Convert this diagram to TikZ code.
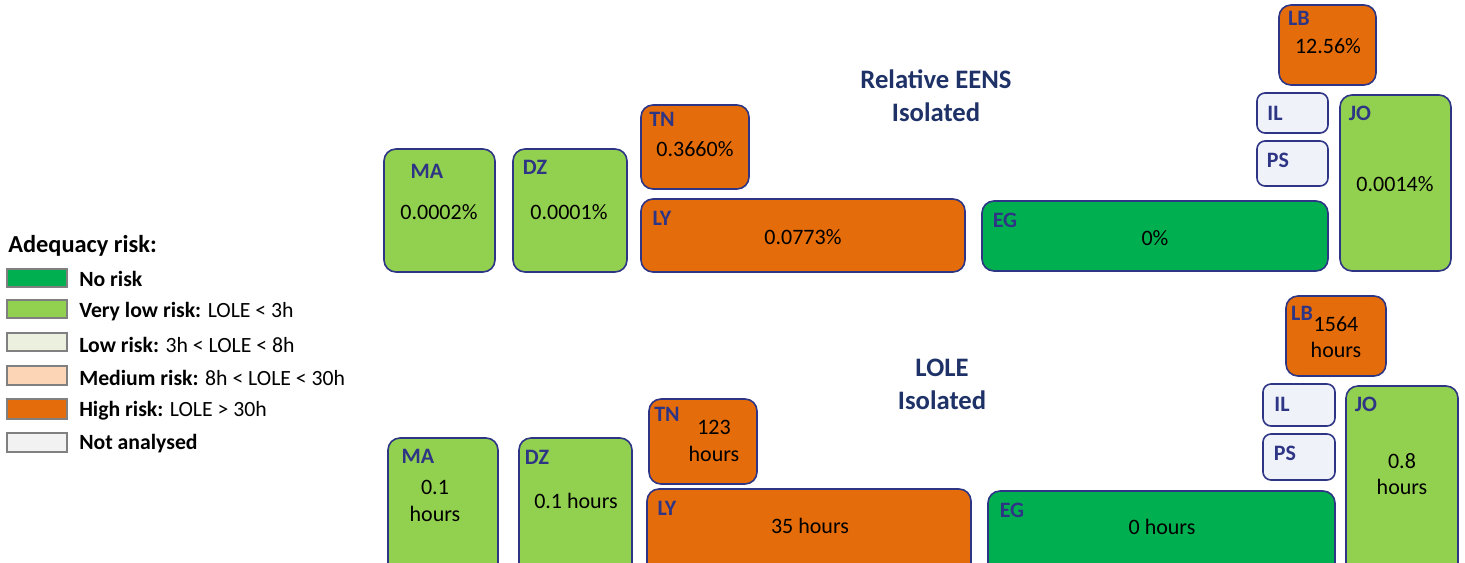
\documentclass[tikz,border=0pt]{standalone}
\usepackage{fontspec}
\setmainfont{Carlito}
\usetikzlibrary{fit}
\definecolor{norisk}{HTML}{00B050}
\definecolor{vlow}{HTML}{92D050}
\definecolor{lowr}{HTML}{EBF1DE}
\definecolor{medr}{HTML}{FBD5B5}
\definecolor{highr}{HTML}{E46C0A}
\definecolor{notan}{HTML}{F2F2F2}
\definecolor{lav}{HTML}{F0F2FA}
\definecolor{navy}{HTML}{2E3585}
\definecolor{titlec}{HTML}{1F3268}
\tikzset{
  box/.style={draw=navy, line width=1.2pt, rounded corners=9pt, inner sep=0pt},
  sbox/.style={draw=navy, line width=1.2pt, rounded corners=6pt, inner sep=0pt, fill=lav},
  lab/.style={font=\fontsize{16.5}{18}\selectfont\bfseries, text=navy, inner sep=0pt},
  val/.style={font=\fontsize{16.5}{20}\selectfont, text=black, align=center, inner sep=0pt},
  ttl/.style={font=\fontsize{20}{24.75}\selectfont\bfseries, text=titlec, align=center, inner sep=0pt},
  sw/.style={draw=black!50, line width=0.8pt, inner sep=0pt},
  leg/.style={font=\fontsize{16.3}{18}\selectfont, anchor=west, inner sep=0pt},
}
\begin{document}
\begin{tikzpicture}[x=0.75pt, y=-0.75pt]
\useasboundingbox (0,0) rectangle (1465,562);
\clip (0,0) rectangle (1465,562);
\fill[white] (0,0) rectangle (1465,562);

% ---------- Legend ----------
\node[leg, font=\fontsize{18.3}{20}\selectfont\bfseries] (legt) at (8,246) {Adequacy risk:};
\node[sw, fill=norisk, fit={(7,269) (67,287)}] (s1) {};
\node[sw, fill=vlow,   fit={(7,300) (67,318)}] (s2) {};
\node[sw, fill=lowr,   fit={(7,333) (67,351)}] (s3) {};
\node[sw, fill=medr,   fit={(7,366) (67,385)}] (s4) {};
\node[sw, fill=highr,  fit={(7,399) (67,419)}] (s5) {};
\node[sw, fill=notan,  fit={(7,433) (67,452)}] (s6) {};
\node[leg] (l1) at (79,279) {\textbf{No risk}};
\node[leg] (l2) at (79,312) {\textbf{Very low risk:} LOLE < 3h};
\node[leg] (l3) at (79,345) {\textbf{Low risk:} 3h < LOLE < 8h};
\node[leg] (l4) at (79,378) {\textbf{Medium risk:} 8h < LOLE < 30h};
\node[leg] (l5) at (79,411) {\textbf{High risk:} LOLE > 30h};
\node[leg] (l6) at (79,444) {\textbf{Not analysed}};

% ---------- Top panel: Relative EENS ----------
\node[ttl] (t1) at (936,96) {Relative EENS\\Isolated};

\node[box, fill=vlow, fit={(384,149) (495,272)}] (ama) {};
\node[lab] at (427,171) {MA};
\node[val] at (439,212) {0.0002\%};

\node[box, fill=vlow, fit={(513,149) (627,272)}] (adz) {};
\node[lab] at (535,167) {DZ};
\node[val] at (569,212) {0.0001\%};

\node[box, fill=highr, fit={(641,105) (749,189)}] (atn) {};
\node[lab] at (662,119) {TN};
\node[val] at (695,149) {0.3660\%};

\node[box, fill=highr, fit={(641,199) (965,272)}] (aly) {};
\node[lab] at (662,218) {LY};
\node[val] at (803,237) {0.0773\%};

\node[box, fill=norisk, fit={(982,201) (1328,271)}] (aeg) {};
\node[lab] at (1005,220) {EG};
\node[val] at (1155,238) {0\%};

\node[box, fill=highr, fit={(1279,5) (1376,85)}] (alb) {};
\node[lab] at (1299,18) {LB};
\node[val] at (1328,46) {12.56\%};

\node[sbox, fit={(1257,93) (1328,133)}] (ail) {};
\node[lab] at (1275,113) {IL};
\node[sbox, fit={(1257,141) (1328,186)}] (aps) {};
\node[lab] at (1278,160) {PS};

\node[box, fill=vlow, fit={(1340,95) (1451,271)}] (ajo) {};
\node[lab] at (1360,113) {JO};
\node[val] at (1395,184) {0.0014\%};

% ---------- Bottom panel: LOLE ----------
\node[ttl] (t2) at (942,384) {LOLE\\Isolated};

\node[box, fill=vlow, fit={(388,438) (498,590)}] (bma) {};
\node[lab] at (418,456) {MA};
\node[val] at (435,501) {0.1\\hours};

\node[box, fill=vlow, fit={(519,438) (632,590)}] (bdz) {};
\node[lab] at (537,457) {DZ};
\node[val] at (576,501) {0.1 hours};

\node[box, fill=highr, fit={(649,399) (757,484)}] (btn) {};
\node[lab] at (667,414) {TN};
\node[val] at (714,441) {123\\hours};

\node[box, fill=highr, fit={(647,489) (971,590)}] (bly) {};
\node[lab] at (667,508) {LY};
\node[val] at (810,526) {35 hours};

\node[box, fill=norisk, fit={(988,491) (1335,590)}] (beg) {};
\node[lab] at (1012,510) {EG};
\node[val] at (1162,527) {0 hours};

\node[box, fill=highr, fit={(1286,296) (1386,376)}] (blb) {};
\node[lab] at (1302,313) {LB};
\node[val] at (1336,337) {1564\\hours};

\node[sbox, fit={(1263,384) (1335,426)}] (bil) {};
\node[lab] at (1282,404) {IL};
\node[sbox, fit={(1263,434) (1335,480)}] (bps) {};
\node[lab] at (1285,453) {PS};

\node[box, fill=vlow, fit={(1346,386) (1458,590)}] (bjo) {};
\node[lab] at (1366,404) {JO};
\node[val] at (1402,474) {0.8\\hours};
\end{tikzpicture}
\end{document}
